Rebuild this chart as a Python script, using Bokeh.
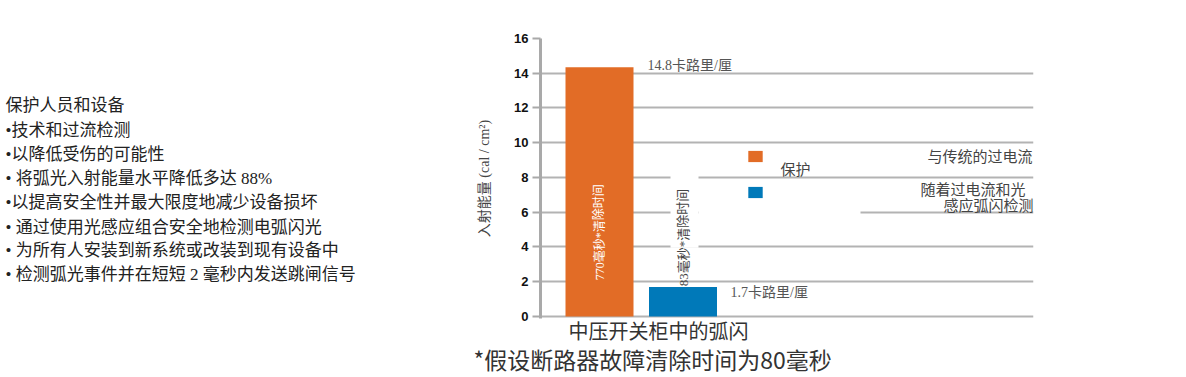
from bokeh.plotting import figure
from bokeh.layouts import row
from bokeh.models import (Range1d, Label, BoxAnnotation, Legend, LegendItem,
                          FixedTicker, ColumnDataSource, Title)
from bokeh.embed import file_html
from bokeh.resources import INLINE

# ---------------- data ----------------
categories = ["传统过电流保护", "过电流和光感应弧闪检测"]
bar_values = [14.35, 1.7]
bar_colors = ["#E26C26", "#0079B9"]
energy_labels = ["14.8卡路里/厘", "1.7卡路里/厘"]
clear_time_labels = ["770毫秒*清除时间", "83毫秒*清除时间"]
y_ticks = [0, 2, 4, 6, 8, 10, 12, 14, 16]
category_label = "中压开关柜中的弧闪"
y_axis_title = "入射能量 (cal / cm²)"
footnote = "*假设断路器故障清除时间为80毫秒"
legend_texts = ["与传统的过电流", "保护", "随着过电流和光", "感应弧闪检测"]
side_text = [
    "保护人员和设备",
    "•技术和过流检测",
    "•以降低受伤的可能性",
    "• 将弧光入射能量水平降低多达 88%",
    "•以提高安全性并最大限度地减少设备损坏",
    "• 通过使用光感应组合安全地检测电弧闪光",
    "• 为所有人安装到新系统或改装到现有设备中",
    "• 检测弧光事件并在短短 2 毫秒内发送跳闸信号",
]

CJK = "Noto Sans CJK SC"
SERIF_CJK = "'Liberation Serif', 'Noto Sans CJK SC'"
TOP, BOTTOM = 38, 318   # frame top / bottom in page pixels
H = 377
LEFT_W = 454
MAIN_BORDER_L = 86

# ---------------- left text panel ----------------
left = figure(width=LEFT_W, height=H, output_backend="svg", toolbar_location=None,
              x_range=Range1d(0, LEFT_W), y_range=Range1d(BOTTOM, TOP),
              x_axis_location=None, y_axis_location=None,
              min_border_left=0, min_border_right=0,
              min_border_top=TOP, min_border_bottom=H - BOTTOM,
              outline_line_color=None,
              background_fill_color="white", border_fill_color="white")
left.grid.visible = False
line_y_px = [105, 130, 153.5, 178, 202, 226.5, 250, 273.5]
for t, ypx in zip(side_text, line_y_px):
    left.add_layout(Label(x=5, y=ypx, text=t, text_font=SERIF_CJK,
                          text_font_size="17px", text_color="#222222",
                          text_baseline="middle", text_align="left"))

# ---------------- main chart ----------------
p = figure(width=1186 - LEFT_W, height=H, output_backend="svg", toolbar_location=None,
           x_range=Range1d(0, 493), y_range=Range1d(-0.12, 16),
           min_border_left=MAIN_BORDER_L, min_border_right=153, min_border_top=TOP,
           min_border_bottom=H - BOTTOM, x_axis_location=None,
           outline_line_color=None,
           background_fill_color="white", border_fill_color="white")

p.yaxis.ticker = FixedTicker(ticks=y_ticks)
p.yaxis.axis_line_color = "#a9a9a9"
p.yaxis.axis_line_width = 3
p.yaxis.major_tick_out = 8
p.yaxis.major_tick_in = 0
p.yaxis.major_tick_line_color = "#a9a9a9"
p.yaxis.major_tick_line_width = 2
p.yaxis.minor_tick_line_color = None
p.yaxis.major_label_text_font = "Liberation Sans"
p.yaxis.major_label_text_font_style = "bold"
p.yaxis.major_label_text_font_size = "13px"
p.yaxis.major_label_text_color = "#111111"
p.yaxis.major_label_standoff = 4
p.xgrid.visible = False
p.ygrid.ticker = FixedTicker(ticks=y_ticks)
p.ygrid.grid_line_color = "#b3b3b3"
p.ygrid.grid_line_width = 2

# y-axis title (left panel, shifted down like the reference)
p.add_layout(Title(text=y_axis_title, align="center", offset=-35, standoff=40,
                   text_font=SERIF_CJK, text_font_size="14px",
                   text_font_style="normal", text_color="#444444"), "left")

bar_x = [59 + i * 83.5 for i in range(len(bar_values))]
src = ColumnDataSource(dict(x=bar_x, top=bar_values, color=bar_colors, cat=categories))
bars = p.vbar(x="x", top="top", bottom=0, width=68, color="color",
              line_color=None, source=src)

# white boxes behind text blocks (gridline gaps)
p.add_layout(BoxAnnotation(left=130, right=158, bottom=3.96, top=8.4,
                           fill_color="white", fill_alpha=1, line_color=None))
p.add_layout(BoxAnnotation(left=158, right=320, bottom=5.64, top=6.39,
                           fill_color="white", fill_alpha=1, line_color=None))

legend = Legend(items=[LegendItem(label=" ", renderers=[bars], index=0),
                       LegendItem(label=" ", renderers=[bars], index=1)],
                location=(206, 119), orientation="vertical",
                glyph_width=18, glyph_height=14, spacing=22, padding=0, margin=0,
                border_line_color=None, background_fill_alpha=0,
                label_width=0, label_height=14, label_standoff=0,
                label_text_font_size="1px")
p.add_layout(legend)

p.add_layout(Label(x=107, y=14.45, text=energy_labels[0], text_font=SERIF_CJK,
                   text_font_size="14px", text_color="#555555",
                   text_baseline="middle", text_align="left"))
p.add_layout(Label(x=190, y=1.38, text=energy_labels[1], text_font=SERIF_CJK,
                   text_font_size="14px", text_color="#555555",
                   text_baseline="middle", text_align="left"))

p.add_layout(Label(x=bar_x[0], y=4.84, text=clear_time_labels[0], angle=1.5708,
                   text_font=SERIF_CJK, text_font_size="12px", text_color="white",
                   text_baseline="middle", text_align="center"))
p.add_layout(Label(x=bar_x[1], y=4.55, text=clear_time_labels[1], angle=1.5708,
                   text_font=SERIF_CJK, text_font_size="13px", text_color="#444444",
                   text_baseline="middle", text_align="center"))

p.add_layout(Label(x=492, y=9.27, text=legend_texts[0], text_font=CJK,
                   text_font_size="15px", text_color="#444444",
                   text_baseline="middle", text_align="right"))
p.add_layout(Label(x=240, y=8.52, text=legend_texts[1], text_font=CJK,
                   text_font_size="15px", text_color="#444444",
                   text_baseline="middle", text_align="left"))
p.add_layout(Label(x=485, y=7.37, text=legend_texts[2], text_font=CJK,
                   text_font_size="15px", text_color="#444444",
                   text_baseline="middle", text_align="right"))
p.add_layout(Label(x=493, y=6.45, text=legend_texts[3], text_font=CJK,
                   text_font_size="15px", text_color="#444444",
                   text_baseline="middle", text_align="right"))

# category label and footnote below the frame
p.add_layout(Title(text=category_label, align="left", offset=28, standoff=-10,
                   text_font=CJK, text_font_size="20px", text_font_style="normal",
                   text_color="#333333"), "below")
p.add_layout(Title(text=footnote, align="left", offset=-67, standoff=0,
                   text_font=CJK, text_font_size="23px", text_font_style="normal",
                   text_color="#333333"), "below")

layout = row(left, p)
open("out.html", "w").write(file_html(layout, INLINE))
